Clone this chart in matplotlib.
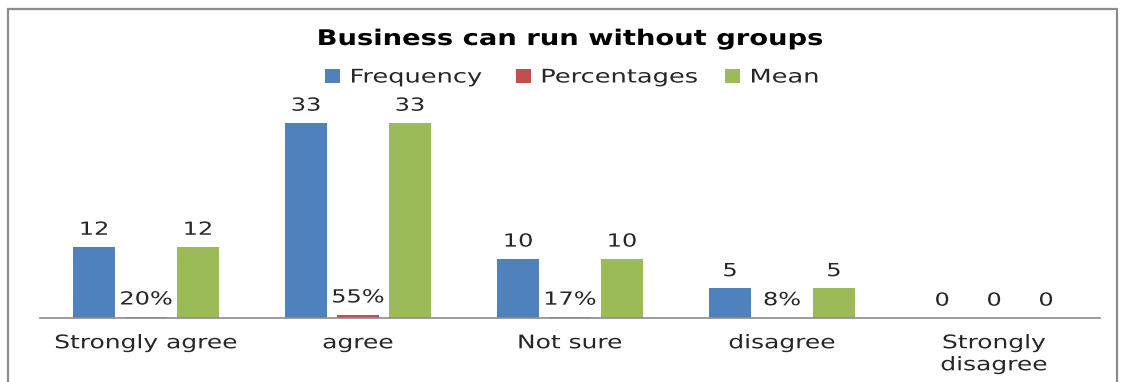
import matplotlib.pyplot as plt
from matplotlib.patches import Rectangle
from matplotlib.patheffects import AbstractPathEffect
from matplotlib.transforms import Affine2D
import numpy as np

plt.rcParams['font.family'] = ['DejaVu Sans']

# survey responses
categories = ["Strongly agree", "agree", "Not sure", "disagree", "Strongly\ndisagree"]
frequency = [12, 33, 10, 5, 0]
percentages = [0.20, 0.55, 0.17, 0.08, 0.0]
mean = [12, 33, 10, 5, 0]

blue = "#4F81BD"
red = "#C0504D"
green = "#9BBB59"
txt = "#262626"


class Widen(AbstractPathEffect):
    """Stretch text glyphs horizontally, about their centre or left edge."""

    def __init__(self, sx, centre=True):
        super().__init__()
        self.sx = sx
        self.centre = centre

    def draw_path(self, renderer, gc, tpath, affine, rgbFace=None):
        ext = tpath.get_extents()
        cx = (ext.x0 + ext.x1) / 2 if self.centre else ext.x0
        tr = Affine2D().translate(-cx, 0).scale(self.sx, 1).translate(cx, 0) + affine
        renderer.draw_path(gc, tpath, tr, rgbFace)


wide = [Widen(1.33)]

fig = plt.figure(figsize=(11.21, 3.82), dpi=100)

# chart frame
fig.patches.append(Rectangle((8 / 1121, -0.1), 1109 / 1121, 1.1 - 9 / 382,
                             transform=fig.transFigure, fill=False,
                             edgecolor="#8c8c8c", linewidth=1.6))

ax = fig.add_axes([40 / 1121, 64 / 382, 1060 / 1121, 212.7 / 382])
x = np.arange(len(categories))
w = 0.198
off = 0.245

b1 = ax.bar(x - off, frequency, w, color=blue, label="Frequency")
b2 = ax.bar(x, percentages, w, color=red, label="Percentages")
b3 = ax.bar(x + off, mean, w, color=green, label="Mean")

for bars, vals in ((b1, frequency), (b3, mean)):
    for r, v in zip(bars, vals):
        ax.annotate(str(v), (r.get_x() + r.get_width() / 2, v), xytext=(0, 6),
                    textcoords="offset points", ha="center", va="bottom",
                    fontsize=13, color=txt, path_effects=wide)
for r, v in zip(b2, percentages):
    lab = f"{round(v * 100)}%" if v > 0 else "0"
    ax.annotate(lab, (r.get_x() + r.get_width() / 2, v), xytext=(0, 6),
                textcoords="offset points", ha="center", va="bottom",
                fontsize=13, color=txt, path_effects=wide)

ax.set_xlim(-0.5, len(categories) - 0.5)
ax.set_ylim(0, 36)
ax.set_xticks(x)
ax.set_xticklabels(categories, fontsize=13.5, color=txt, linespacing=1.2)
for t in ax.get_xticklabels():
    t.set_path_effects(wide)
ax.tick_params(axis="x", length=0, pad=11)
ax.set_yticks([])
for s in ("top", "right", "left"):
    ax.spines[s].set_visible(False)
ax.spines["bottom"].set_color("#8c8c8c")
ax.spines["bottom"].set_linewidth(1.2)

fig.text(0.508, 1 - 39 / 382, "Business can run without groups", ha="center",
         va="center", fontsize=15.5, fontweight="bold", color="black",
         path_effects=[Widen(1.27)])
leg = fig.legend(handles=[b1, b2, b3], loc="center left",
                 bbox_to_anchor=(308 / 1121, 1 - 77 / 382),
                 ncol=3, frameon=False, fontsize=13.5, handlelength=0.8,
                 handleheight=0.8, handletextpad=0.55, columnspacing=3.65,
                 labelcolor=txt)
for t in leg.get_texts():
    t.set_path_effects([Widen(1.37, centre=False)])

fig.savefig("out.png", dpi=100)
